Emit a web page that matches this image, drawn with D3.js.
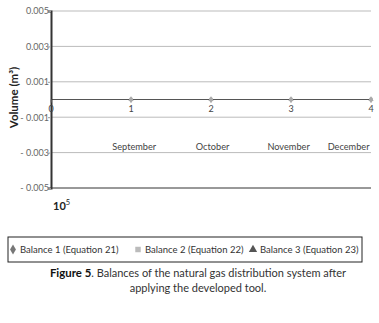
<!DOCTYPE html>
<html>
<head>
<meta charset="utf-8">
<script src="https://cdn.jsdelivr.net/npm/d3@7"></script>
<style>
  body { margin: 0; background: #fff; }
  text { font-family: "Lato", "Open Sans", sans-serif; }
</style>
</head>
<body>
<div id="chart"></div>
<script>
const xValues = [1, 2, 3, 4];
const balance1 = [0, 0, 0, 0];
const balance2 = [0, 0, 0, 0];
const balance3 = [0, 0, 0, 0];
const yTicks = [0.005, 0.003, 0.001, -0.001, -0.003, -0.005];
const xTicks = [0, 1, 2, 3, 4];
const months = ["September", "October", "November", "December"];
const monthPos = [1.04, 2.02, 2.97, 3.72];
const seriesNames = ["Balance 1 (Equation 21)", "Balance 2 (Equation 22)", "Balance 3 (Equation 23)"];

const W = 379, H = 323;
const svg = d3.select("#chart").append("svg").attr("width", W).attr("height", H);

const x = d3.scaleLinear().domain([0, 4]).range([51, 371]);
const y = d3.scaleLinear().domain([-0.005, 0.005]).range([188, 11]);

// gridlines
svg.append("g").selectAll("line").data(yTicks.filter(d => d !== -0.005))
  .join("line")
  .attr("x1", x(0)).attr("x2", x(4))
  .attr("y1", d => y(d)).attr("y2", d => y(d))
  .attr("stroke", "#bbb").attr("stroke-width", 1);

// bottom line
svg.append("line").attr("x1", x(0)).attr("x2", x(4))
  .attr("y1", y(-0.005)).attr("y2", y(-0.005))
  .attr("stroke", "#333").attr("stroke-width", 1);

// zero axis
svg.append("line").attr("x1", x(0)).attr("x2", x(4))
  .attr("y1", y(0)).attr("y2", y(0))
  .attr("stroke", "#555").attr("stroke-width", 1);

// y axis
const yAxis = d3.axisLeft(y).tickValues(yTicks).tickSize(3)
  .tickFormat(d => d < 0 ? "- " + d3.format(".3f")(-d) : d3.format(".3f")(d));
const ya = svg.append("g").attr("transform", `translate(${x(0)},0)`).call(yAxis);
ya.select(".domain").attr("stroke", "#333").attr("stroke-width", 2);
ya.selectAll(".tick line").attr("stroke", "#999");
ya.selectAll(".tick text").attr("fill", "#666").style("font-size", "9px").attr("x", -2);

// x tick labels on zero line
svg.append("g").selectAll("text").data(xTicks).join("text")
  .attr("x", d => x(d)).attr("y", y(0) + 12)
  .attr("text-anchor", "middle").attr("fill", "#444")
  .style("font-size", "9px").text(d => d);

svg.append("g").selectAll("line").data(xTicks).join("line")
  .attr("x1", d => x(d)).attr("x2", d => x(d))
  .attr("y1", y(0)).attr("y2", y(0) + 3).attr("stroke", "#777");

// month labels
svg.append("g").selectAll("text").data(months).join("text")
  .attr("x", (d, i) => x(monthPos[i])).attr("y", 150)
  .attr("text-anchor", "middle").attr("fill", "#444")
  .style("font-size", "9.2px").text(d => d);

// series markers (all zero)
const sym = [d3.symbolDiamond, d3.symbolSquare, d3.symbolTriangle];
[balance1, balance2, balance3].forEach((s, k) => {
  svg.append("g").selectAll("path").data(s).join("path")
    .attr("transform", (d, i) => `translate(${x(xValues[i])},${y(d)})`)
    .attr("d", d3.symbol(sym[k], 12))
    .attr("fill", "#aaa");
});

// axis title
svg.append("text")
  .attr("transform", `translate(18,${y(0) - 2}) rotate(-90)`)
  .attr("text-anchor", "middle").attr("fill", "#222")
  .style("font-size", "11.5px").style("font-weight", "bold")
  .text("Volume (m³)");

// 10^5
const t = svg.append("text").attr("x", 53).attr("y", 210)
  .attr("fill", "#222").style("font-size", "11px").style("font-weight", "bold");
t.append("tspan").text("10");
t.append("tspan").attr("dy", -5).style("font-size", "7.5px").style("font-weight", "normal").text("5");

// legend
svg.append("rect").attr("x", 8).attr("y", 237).attr("width", 354).attr("height", 25)
  .attr("fill", "none").attr("stroke", "#222").attr("stroke-width", 1);
const legX = [13, 138, 253];
const legColors = ["#777", "#bbb", "#555"];
seriesNames.forEach((n, i) => {
  svg.append("path")
    .attr("transform", `translate(${legX[i]},${249.5})`)
    .attr("d", d3.symbol(sym[i], 30))
    .attr("fill", legColors[i]);
  svg.append("text").attr("x", legX[i] + 7).attr("y", 252.5)
    .attr("fill", "#333").style("font-size", "9.5px").text(n);
});

// caption
const cap = svg.append("text").attr("x", 198).attr("y", 277).attr("text-anchor", "middle")
  .attr("fill", "#333").style("font-size", "11px");
cap.append("tspan").style("font-weight", "bold").style("font-size", "11.4px").attr("fill", "#111").text("Figure 5");
cap.append("tspan").text(". Balances of the natural gas distribution system after");
svg.append("text").attr("x", 198).attr("y", 292).attr("text-anchor", "middle")
  .attr("fill", "#333").style("font-size", "11px").text("applying the developed tool.");
</script>
</body>
</html>
